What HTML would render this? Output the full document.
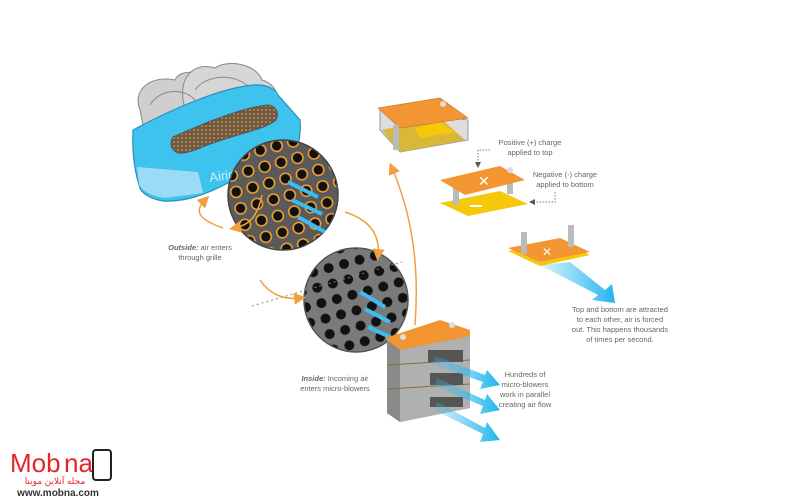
<!DOCTYPE html>
<html><head><meta charset="utf-8"><style>
html,body{margin:0;padding:0;background:#fff;overflow:hidden;}
svg{display:block;}
text{font-family:"Liberation Sans",sans-serif;fill:#666;}
</style></head><body>
<svg width="785" height="500" viewBox="0 0 785 500" xmlns="http://www.w3.org/2000/svg">
<defs>
<pattern id="h1" x="0" y="0" width="17" height="17" patternUnits="userSpaceOnUse" patternTransform="rotate(-15)">
<rect width="17" height="17" fill="#5a5a5a"/>
<circle cx="8.5" cy="8.5" r="5.5" fill="#111" stroke="#f0a030" stroke-width="1.6"/>
</pattern>
<pattern id="h2" x="0" y="0" width="16" height="16" patternUnits="userSpaceOnUse" patternTransform="rotate(-15)">
<rect width="16" height="16" fill="#7a7a7a"/>
<circle cx="8" cy="8" r="5" fill="#111"/>
</pattern>
<pattern id="gr" width="4" height="4" patternUnits="userSpaceOnUse">
<rect width="4" height="4" fill="#6b5a4a"/>
<circle cx="2" cy="2" r="1" fill="#d08a30"/>
</pattern>
<clipPath id="c1"><circle cx="283" cy="195" r="55"/></clipPath>
<clipPath id="c2"><circle cx="356" cy="300" r="52"/></clipPath>
<linearGradient id="bl" x1="0" y1="0" x2="1" y2="0"><stop offset="0" stop-color="#3cc0f0" stop-opacity="0.2"/><stop offset="1" stop-color="#20b4ee"/></linearGradient>
<marker id="ao" markerWidth="8" markerHeight="8" refX="4" refY="4" orient="auto"><path d="M0,0 L8,4 L0,8 z" fill="#f0a040"/></marker>
<marker id="ad" markerWidth="6" markerHeight="6" refX="3" refY="3" orient="auto"><path d="M0,0 L6,3 L0,6 z" fill="#555"/></marker>
</defs>

<!-- mask gray lobes -->
<g stroke="#888" stroke-width="1">
<path d="M140,110 C132,90 150,75 175,80 C180,68 205,70 212,85 L215,135 L145,135 Z" fill="#cfcfcf"/>
<path d="M183,100 C180,75 195,62 215,68 C225,60 255,62 262,80 C280,85 282,105 275,130 L190,135 Z" fill="#d6d6d6"/>
<path d="M150,105 C160,88 185,88 195,100 M195,90 C205,75 235,72 250,88 M205,110 C215,95 240,95 255,110 M155,120 C170,108 190,110 200,122" fill="none"/>
</g>
<!-- blue band -->
<path d="M133,130 C170,110 220,88 253,85 C265,84 275,88 278,95 L300,120 C302,140 295,160 280,175 L228,183 C205,195 185,202 163,201 C150,199 142,193 140,188 C134,170 132,150 133,130 Z" fill="#3ec3ee" stroke="#2a8fb8" stroke-width="1.2"/>
<path d="M173,137 C200,125 240,108 267,105 C275,105 280,112 276,120 C265,130 230,135 200,148 C190,152 180,155 176,152 C170,148 170,142 173,137 Z" fill="url(#gr)" stroke="#555"/>
<path d="M137,167 L198,172 L203,193 L165,198 C150,196 142,190 139,185 Z" fill="#9adcf5"/>
<text x="210" y="182" font-size="13" style="fill:#cfefff" transform="rotate(-8 210 182)">Airing</text>

<!-- circle 1 -->
<circle cx="283" cy="195" r="55" fill="#5a5a5a"/>
<rect x="220" y="132" width="130" height="130" fill="url(#h1)" clip-path="url(#c1)"/>
<circle cx="283" cy="195" r="55" fill="none" stroke="#444" stroke-width="1.5"/>
<!-- circle 2 -->
<circle cx="356" cy="300" r="52" fill="#7a7a7a"/>
<rect x="300" y="242" width="120" height="120" fill="url(#h2)" clip-path="url(#c2)"/>
<circle cx="356" cy="300" r="52" fill="none" stroke="#555" stroke-width="1.5"/>

<line x1="252" y1="306" x2="402" y2="262" stroke="#888" stroke-dasharray="2,3"/>

<!-- orange curves -->
<path d="M262,195 C258,215 250,225 235,228" fill="none" stroke="#f0a040" stroke-width="1.5" marker-end="url(#ao)"/>
<path d="M223,228 C200,220 193,212 205,200" fill="none" stroke="#f0a040" stroke-width="1.5" marker-end="url(#ao)"/>
<path d="M345,212 C370,220 380,235 378,255" fill="none" stroke="#f0a040" stroke-width="1.5" marker-end="url(#ao)"/>
<path d="M260,280 C270,295 285,300 300,298" fill="none" stroke="#f0a040" stroke-width="1.5" marker-end="url(#ao)"/>
<path d="M415,325 C420,260 410,210 392,168" fill="none" stroke="#f0a040" stroke-width="1.5" marker-end="url(#ao)"/>

<!-- blue arrows into circles -->
<g stroke="#3cbdf0" stroke-width="4" fill="none">
<line x1="318" y1="197" x2="288" y2="182"/><line x1="322" y1="214" x2="292" y2="200"/><line x1="325" y1="232" x2="298" y2="217"/>
<line x1="385" y1="307" x2="360" y2="292"/><line x1="390" y1="322" x2="365" y2="309"/><line x1="390" y1="337" x2="368" y2="327"/>
</g>

<!-- blower stack -->
<path d="M387,340 L387,413 L400,422 L470,408 L470,333 Z" fill="#9a9a9a"/>
<path d="M400,350 L400,422 L470,408 L470,336 Z" fill="#b0b0b0"/>
<path d="M387,340 L400,350 L400,422 L387,413 Z" fill="#8a8a8a"/>
<line x1="387" y1="365" x2="470" y2="360" stroke="#8a6a40"/>
<line x1="387" y1="389" x2="470" y2="384" stroke="#8a6a40"/>
<rect x="428" y="350" width="35" height="12" fill="#555"/>
<rect x="430" y="373" width="33" height="12" fill="#555"/>
<rect x="430" y="397" width="33" height="10" fill="#555"/>
<path d="M385,338 L440,320 L470,330 L470,336 L400,350 Z" fill="#f29532"/>
<circle cx="403" cy="337" r="3" fill="#ddd"/><circle cx="452" cy="325" r="3" fill="#ddd"/>
<g fill="url(#bl)">
<path d="M435,356 L485,375 L487,370 L500,385 L480,389 L483,382 L432,364 Z"/>
<path d="M437,378 L485,400 L487,394 L500,410 L480,414 L483,406 L434,386 Z"/>
<path d="M437,402 L485,428 L487,422 L500,440 L480,442 L483,434 L434,410 Z"/>
</g>

<!-- top plate 1 -->
<path d="M380,108 L380,130 L400,152 L468,140 L468,120 Z" fill="#ddd" stroke="#999"/>
<path d="M382,130 L400,152 L465,140 L440,118 Z" fill="#d9b838"/>
<path d="M420,138 L455,132 L440,122 L415,128 Z" fill="#f5c80a"/>
<path d="M378,108 L440,98 L468,118 L400,128 Z" fill="#f29532" stroke="#c07020" stroke-width="0.6"/>
<rect x="393" y="125" width="6" height="25" fill="#bbb"/>
<circle cx="443" cy="104" r="3" fill="#ddd"/>

<!-- plate 2 -->
<path d="M440,203 L500,191 L528,204 L468,216 Z" fill="#f5c80a"/>
<rect x="453" y="185" width="6" height="20" fill="#bbb"/><rect x="507" y="174" width="6" height="20" fill="#bbb"/>
<path d="M440,180 L500,166 L525,180 L465,195 Z" fill="#f29532"/>
<text x="478" y="186" font-size="14" style="fill:#fff">✕</text>
<rect x="470" y="205" width="12" height="2" fill="#fff"/>
<circle cx="510" cy="170" r="3" fill="#ddd"/>
<text x="530" y="145" font-size="7.5" text-anchor="middle">Positive (+) charge</text>
<text x="530" y="155" font-size="7.5" text-anchor="middle">applied to top</text>
<path d="M490,150 L478,150 L478,165" fill="none" stroke="#777" stroke-dasharray="1.5,1.5" marker-end="url(#ad)"/>
<text x="565" y="177" font-size="7.5" text-anchor="middle">Negative (-) charge</text>
<text x="565" y="187" font-size="7.5" text-anchor="middle">applied to bottom</text>
<path d="M555,192 L555,202 L532,202" fill="none" stroke="#777" stroke-dasharray="1.5,1.5" marker-end="url(#ad)"/>

<!-- plate 3 -->
<path d="M508,251 L560,241 L590,255 L540,266 Z" fill="#f5c80a"/>
<path d="M508,248 L560,238 L590,252 L540,262 Z" fill="#f29532"/>
<rect x="521" y="232" width="6" height="22" fill="#bbb"/><rect x="568" y="225" width="6" height="22" fill="#bbb"/>
<text x="542" y="256" font-size="12" style="fill:#fff">✕</text>
<path d="M540,265 L570,262 L605,290 L612,284 L615,303 L592,300 L598,295 Z" fill="url(#bl)"/>
<g font-size="7.5" text-anchor="middle">
<text x="620" y="312">Top and bottom are attracted</text>
<text x="620" y="322">to each other, air is forced</text>
<text x="620" y="332">out. This happens thousands</text>
<text x="620" y="342">of times per second.</text>
</g>

<!-- labels -->
<g font-size="7.5" text-anchor="middle">
<text x="200" y="250"><tspan font-weight="bold" font-style="italic">Outside:</tspan> air enters</text>
<text x="200" y="260">through grille</text>
<text x="335" y="381"><tspan font-weight="bold" font-style="italic">Inside:</tspan> Incoming air</text>
<text x="335" y="391">enters micro-blowers</text>
<text x="525" y="377">Hundreds of</text>
<text x="525" y="387">micro-blowers</text>
<text x="525" y="397">work in parallel</text>
<text x="525" y="407">creating air flow</text>
</g>

<!-- watermark -->
<text x="10" y="472" font-size="26" style="fill:#e8242a">Mob</text>
<text x="64" y="472" font-size="26" style="fill:#e8242a">na</text>
<rect x="93" y="450" width="18" height="30" rx="3" fill="none" stroke="#222" stroke-width="2"/>
<text x="55" y="484" font-size="9" text-anchor="middle" style="fill:#e8242a" font-family="Liberation Sans,'Noto Sans CJK SC',sans-serif">مجله آنلاین موبنا</text>
<text x="58" y="496" font-size="10" font-weight="bold" text-anchor="middle" style="fill:#333" font-family="Liberation Serif,serif">www.mobna.com</text>
</svg>
</body></html>
